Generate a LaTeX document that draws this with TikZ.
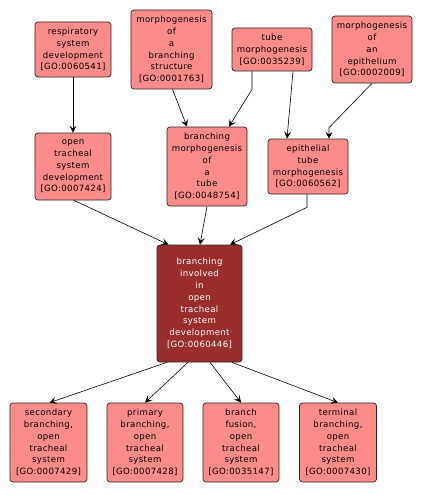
\documentclass[tikz,border=0pt]{standalone}
\usepackage{fontspec}
\setmainfont[LetterSpace=4]{DejaVu Sans}
\usetikzlibrary{arrows.meta,calc}
\definecolor{gofill}{HTML}{FC8B89}
\definecolor{gocen}{HTML}{9A2E2E}
\begin{document}
\begin{tikzpicture}[x=1pt,y=-1pt,
  gobox/.style={draw=black!85,line width=0.7pt,fill=gofill,rounded corners=3pt,
    align=center,inner sep=0pt,font=\fontsize{8.6}{11.8}\selectfont,text=black},
  gocenter/.style={gobox,fill=gocen,text=white},
  edge/.style={line width=0.6pt,-{Stealth[length=7pt,width=7pt,inset=3pt]}}]
\useasboundingbox[fill=white] (0,0) rectangle (423,495);
\node[gobox,minimum width=76pt,minimum height=55pt] (resp) at (73,49.5) {respiratory\\system\\development\\{[}GO:0060541{]}};
\node[gobox,minimum width=81pt,minimum height=79pt] (mbs) at (171.5,49.5) {morphogenesis\\of\\a\\branching\\structure\\{[}GO:0001763{]}};
\node[gobox,minimum width=80pt,minimum height=43pt] (tube) at (272,49.5) {tube\\morphogenesis\\{[}GO:0035239{]}};
\node[gobox,minimum width=80pt,minimum height=67pt] (mep) at (372,49.5) {morphogenesis\\of\\an\\epithelium\\{[}GO:0002009{]}};
\node[gobox,minimum width=76pt,minimum height=67pt] (ots) at (73,166.5) {open\\tracheal\\system\\development\\{[}GO:0007424{]}};
\node[gobox,minimum width=80pt,minimum height=79pt] (bmt) at (207,166.5) {branching\\morphogenesis\\of\\a\\tube\\{[}GO:0048754{]}};
\node[gobox,minimum width=80pt,minimum height=55pt] (ett) at (308,166.5) {epithelial\\tube\\morphogenesis\\{[}GO:0060562{]}};
\node[gocenter,minimum width=85pt,minimum height=117pt] (cen) at (199.5,303.5) {branching\\involved\\in\\open\\tracheal\\system\\development\\{[}GO:0060446{]}};
\node[gobox,minimum width=77pt,minimum height=79pt] (b1) at (48.5,442.5) {secondary\\branching,\\open\\tracheal\\system\\{[}GO:0007429{]}};
\node[gobox,minimum width=76pt,minimum height=79pt] (b2) at (145,442.5) {primary\\branching,\\open\\tracheal\\system\\{[}GO:0007428{]}};
\node[gobox,minimum width=76pt,minimum height=79pt] (b3) at (241,442.5) {branch\\fusion,\\open\\tracheal\\system\\{[}GO:0035147{]}};
\node[gobox,minimum width=77pt,minimum height=79pt] (b4) at (338,442.5) {terminal\\branching,\\open\\tracheal\\system\\{[}GO:0007430{]}};
% edges
\draw[edge] (resp.south) -- (ots.north);
\draw[edge] ($(mbs.south)+(1,0)$) -- ($(bmt.north)+(-20,0)$);
\draw[edge] ($(tube.south)+(-20,0)$) -- ($(tube.south)+(-20,18)$) -- ($(bmt.north)+(22,0)$);
\draw[edge] ($(tube.south)+(21,0)$) -- ($(ett.north)+(-21,0)$);
\draw[edge] (mep.south) -- ($(ett.north)+(21,-11)$) -- ($(ett.north)+(21,0)$);
\draw[edge] ($(ots.south)+(1,0)$) -- ($(cen.north)+(-31,0)$);
\draw[edge] (bmt.south) -- ($(cen.north)+(0.5,0)$);
\draw[edge] ($(ett.south)+(-1,0)$) -- ($(ett.south)+(-1,13)$) -- ($(cen.north)+(30.5,0)$);
\draw[edge] ($(cen.south)+(-32.5,0)$) -- ($(b1.north)+(1,0)$);
\draw[edge] ($(cen.south)+(-11.5,0)$) -- (b2.north);
\draw[edge] ($(cen.south)+(10.5,0)$) -- (b3.north);
\draw[edge] ($(cen.south)+(32.5,0)$) -- (b4.north);
\end{tikzpicture}
\end{document}
